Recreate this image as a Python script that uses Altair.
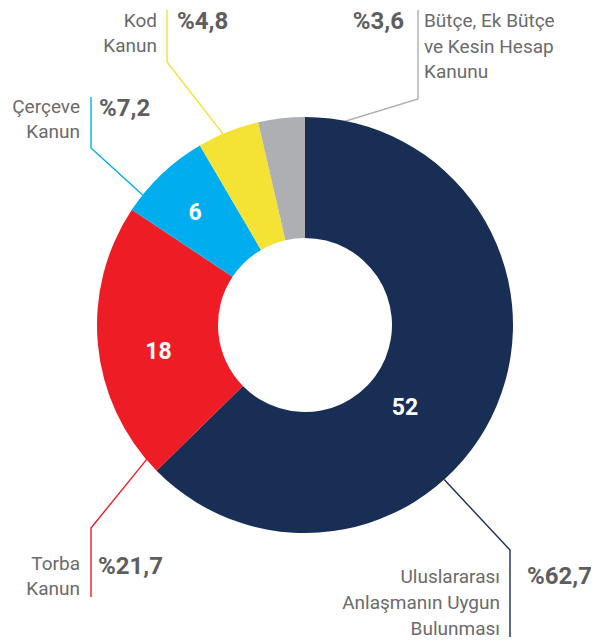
import math
import altair as alt
import pandas as pd

# ---- data ----
categories = ["Uluslararası Anlaşmanın Uygun Bulunması", "Torba Kanun", "Çerçeve Kanun",
              "Kod Kanun", "Bütçe, Ek Bütçe ve Kesin Hesap Kanunu"]
label_lines = [["Uluslararası", "Anlaşmanın Uygun", "Bulunması"], ["Torba", "Kanun"],
               ["Çerçeve", "Kanun"], ["Kod", "Kanun"], ["Bütçe, Ek Bütçe", "ve Kesin Hesap", "Kanunu"]]
values = [52, 18, 6, 4, 3]
percents = ["%62,7", "%21,7", "%7,2", "%4,8", "%3,6"]
colors = ["#192e55", "#ee1d25", "#00adee", "#f4e235", "#aeafb2"]
show_value = [True, True, True, False, False]

# ---- layout (page pixel positions) ----
CX, CY, R_OUT, R_IN = 305, 325, 208, 87
W, H = 583, 632
name_pos = [(500, 583, "right", 26), (80, 570, "right", 25), (80, 113, "right", 25),
            (157, 27, "right", 25), (424, 27, "left", 25.5)]
pct_pos = [(527, 584, "left"), (98, 574, "left"), (99, 116, "left"), (177, 29, "left"), (404, 29, "right")]
leader_start = [(138, 208), (229.7, 207), (308.7, 208), (336.8, 208), (0.5, 192)]
leader_rest = [[(510, 550), (510, 637)], [(91, 528), (91, 597)], [(91, 148), (91, 97)],
               [(167, 62), (167, 10)], [(418, 99), (418, 10)]]
value_angle_shift = [17, -5, -1, 0, 0]
value_radius = [130, 149, 157, 0, 0]

def polar(angle_deg, r):
    a = math.radians(angle_deg)
    return CX + r * math.sin(a), CY - r * math.cos(a)

total = sum(values)
cum = 0
mids = []
for v in values:
    mids.append((cum + v / 2) / total * 360)
    cum += v

slices = pd.DataFrame({"cat": categories, "value": values, "idx": list(range(len(values)))})

lines_rows = []
for i, cat in enumerate(categories):
    pts = [polar(*leader_start[i])] + leader_rest[i]
    for j, (x, y) in enumerate(pts):
        lines_rows.append({"cat": cat, "x": x, "y": y, "o": j})
lines_df = pd.DataFrame(lines_rows)

name_rows = []
for i, lines in enumerate(label_lines):
    x, y0, al, lh = name_pos[i]
    for j, t in enumerate(lines):
        name_rows.append({"t": t, "x": x, "y": y0 + j * lh, "align": al})
name_df = pd.DataFrame(name_rows)

pct_df = pd.DataFrame([{"t": percents[i], "x": pct_pos[i][0], "y": pct_pos[i][1], "align": pct_pos[i][2]}
                       for i in range(len(percents))])

val_rows = []
for i, v in enumerate(values):
    if show_value[i]:
        x, y = polar(mids[i] + value_angle_shift[i], value_radius[i])
        val_rows.append({"t": str(v), "x": x, "y": y})
val_df = pd.DataFrame(val_rows)

xs = alt.Scale(domain=[8, 8 + W], range=[0, W])
ys = alt.Scale(domain=[8, 8 + H], range=[0, H])
color_scale = alt.Scale(domain=categories, range=colors)

arc = alt.Chart(slices).mark_arc(radius=R_OUT, radius2=R_IN, stroke=None).encode(
    theta=alt.Theta("value:Q", stack=True),
    order=alt.Order("idx:Q"),
    color=alt.Color("cat:N", scale=color_scale, legend=None),
    x=alt.value(CX - 8), y=alt.value(CY - 8),
)

leaders = alt.Chart(lines_df).mark_line(strokeWidth=1.4).encode(
    x=alt.X("x:Q", scale=xs, axis=None),
    y=alt.Y("y:Q", scale=ys, axis=None),
    detail="cat:N",
    order="o:Q",
    color=alt.Color("cat:N", scale=color_scale, legend=None),
)

def text_layer(df, align, **kw):
    return alt.Chart(df).mark_text(align=align, **kw).encode(
        x=alt.X("x:Q", scale=xs, axis=None),
        y=alt.Y("y:Q", scale=ys, axis=None),
        text="t:N",
    )

names_r = text_layer(name_df[name_df["align"] == "right"], "right", baseline="alphabetic",
                     font="Roboto", fontSize=19, color="#6b6b6b")
names_l = text_layer(name_df[name_df["align"] == "left"], "left", baseline="alphabetic",
                     font="Roboto", fontSize=19, color="#6b6b6b")
pct_l = text_layer(pct_df[pct_df["align"] == "left"], "left", baseline="alphabetic",
                   font="Roboto", fontSize=24, fontWeight="bold", color="#5e5e5e")
pct_r = text_layer(pct_df[pct_df["align"] == "right"], "right", baseline="alphabetic",
                   font="Roboto", fontSize=24, fontWeight="bold", color="#5e5e5e")
vals = text_layer(val_df, "center", baseline="middle", font="Roboto", fontSize=23,
                  fontWeight="bold", color="white")

chart = alt.layer(leaders, arc, names_r, names_l, pct_l, pct_r, vals).properties(
    width=W, height=H, padding=0, autosize=alt.AutoSizeParams(type="none")
).configure_view(stroke=None)

chart.save("out.html", embed_options={"renderer": "svg", "actions": False})
